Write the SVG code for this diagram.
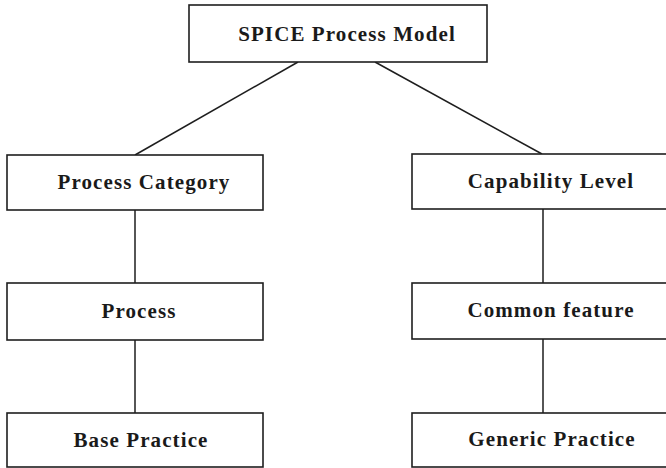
<svg xmlns="http://www.w3.org/2000/svg" width="666" height="468" viewBox="0 0 666 468">
<style>
.box{fill:#fff;stroke:#1e1e1e;stroke-width:1.6}
.lbl{font-family:"Liberation Serif","Times New Roman",serif;font-size:21px;font-weight:bold;letter-spacing:1.1px;fill:#1a1a1a;text-anchor:middle}
.con{stroke:#1e1e1e;stroke-width:1.5;fill:none}
</style>
<rect width="666" height="468" fill="#fff"/>
<g id="connectors">
<line class="con" x1="298" y1="62" x2="135" y2="155"/>
<line class="con" x1="375" y1="62" x2="542" y2="154"/>
<line class="con" x1="135" y1="210" x2="135" y2="283"/>
<line class="con" x1="135" y1="340" x2="135" y2="413"/>
<line class="con" x1="543" y1="209" x2="543" y2="283"/>
<line class="con" x1="543" y1="339" x2="543" y2="413"/>
</g>
<g id="spice">
<rect class="box" x="189" y="5" width="298" height="57"/>
<text class="lbl" x="347" y="41">SPICE Process Model</text>
</g>
<g id="process-category">
<rect class="box" x="7" y="155" width="256" height="55"/>
<text class="lbl" x="144" y="189">Process Category</text>
</g>
<g id="capability-level">
<rect class="box" x="412" y="154" width="262" height="55"/>
<text class="lbl" x="551" y="188">Capability Level</text>
</g>
<g id="process">
<rect class="box" x="7" y="283" width="256" height="57"/>
<text class="lbl" x="139" y="318">Process</text>
</g>
<g id="common-feature">
<rect class="box" x="412" y="283" width="262" height="56"/>
<text class="lbl" x="551" y="317">Common feature</text>
</g>
<g id="base-practice">
<rect class="box" x="7" y="413" width="256" height="54"/>
<text class="lbl" x="141" y="447">Base Practice</text>
</g>
<g id="generic-practice">
<rect class="box" x="412" y="413" width="262" height="54"/>
<text class="lbl" x="552" y="446">Generic Practice</text>
</g>
</svg>
